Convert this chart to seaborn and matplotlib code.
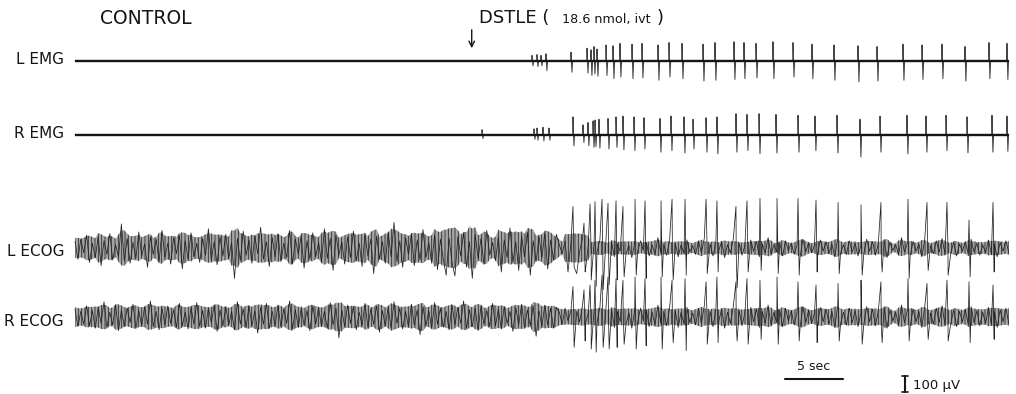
import numpy as np
import pandas as pd
import matplotlib
matplotlib.use("Agg")
import matplotlib.pyplot as plt
import seaborn as sns

sns.set_theme(style="white")
plt.rcParams['font.family'] = ['Liberation Sans', 'DejaVu Sans']
plt.rcParams['hatch.linewidth'] = 0.6

# ---------------- data (time in s, amplitude in microvolts) ----------------
CHANNELS = ["L EMG", "R EMG", "L ECOG", "R ECOG"]
DRUG_TIME = 34.2          # s, DSTLE injection
TRACE_END = 80.5          # s
ECOG_DT = 0.25            # s between background samples

# EMG spikes after drug
L_EMG_T = [39.40, 39.83, 40.17, 40.60, 42.76, 44.14, 44.48, 44.74, 45.00, 45.78,
           46.38, 46.98, 48.02, 48.88, 50.26, 51.21, 52.33, 54.14, 55.17, 56.81,
           57.67, 58.71, 60.17, 61.90, 63.53, 65.43, 67.50, 69.14, 71.38, 73.02,
           74.74, 76.72, 78.79, 80.34]
L_EMG_UP = [35, 40, 35, 45, 55, 80, 70, 90, 75, 100,
            95, 110, 105, 110, 100, 115, 110, 105, 115, 120,
            115, 110, 120, 115, 105, 100, 95, 90, 105, 100,
            105, 90, 115, 110]
L_EMG_DN = [-30, -35, -30, -60, -70, -75, -90, -80, -95, -90,
            -110, -100, -110, -105, -120, -100, -110, -125, -120, -115,
            -110, -105, -110, -100, -110, -120, -130, -125, -120, -115,
            -110, -125, -110, -115]

R_EMG_T = [35.09, 39.57, 39.83, 40.34, 40.86, 42.93, 43.79, 44.22, 44.66, 44.83,
           45.17, 45.95, 46.64, 47.24, 48.19, 49.05, 50.43, 51.38, 52.50, 53.28,
           54.40, 55.34, 56.98, 57.93, 58.97, 60.43, 62.33, 63.79, 65.69, 67.67,
           69.40, 71.72, 73.36, 75.09, 76.90, 79.05, 80.34]
R_EMG_UP = [30, 35, 40, 45, 40, 110, 60, 75, 85, 90,
            95, 100, 110, 115, 110, 105, 100, 115, 110, 95,
            105, 110, 130, 125, 130, 125, 120, 115, 120, 95,
            115, 120, 115, 120, 110, 120, 115]
R_EMG_DN = [-25, -30, -35, -40, -35, -70, -50, -70, -80, -75,
            -85, -90, -80, -95, -100, -90, -110, -100, -115, -90,
            -110, -120, -110, -100, -120, -115, -110, -100, -115, -140,
            -110, -120, -110, -100, -115, -110, -105]

# ECOG paroxysmal spikes after drug
ECOG_T = [42.93, 43.88, 44.40, 44.83, 45.43, 45.95, 46.64, 47.24, 48.28, 49.14,
          50.52, 51.47, 52.59, 54.40, 55.34, 56.98, 57.93, 59.05, 60.52, 62.33,
          63.88, 65.78, 67.76, 69.48, 71.81, 73.45, 75.17, 77.07, 79.14]
L_ECOG_UP = [260, 155, 275, 290, 305, 280, 295, 260, 305, 295,
             295, 305, 305, 305, 295, 260, 295, 310, 310, 310,
             300, 285, 270, 285, 305, 285, 285, 175, 285]
L_ECOG_DN = [-120, -150, -200, -240, -260, -230, -200, -180, -170, -190,
             -180, -200, -170, -160, -150, -250, -150, -140, -160, -170,
             -150, -160, -170, -150, -190, -140, -170, -180, -150]
R_ECOG_UP = [190, 170, 200, 230, 260, 250, 240, 230, 250, 240,
             250, 230, 240, 220, 250, 220, 240, 230, 250, 220,
             200, 210, 230, 220, 240, 210, 230, 220, 200]
R_ECOG_DN = [-190, -150, -200, -220, -190, -200, -190, -170, -200, -180,
             -200, -160, -210, -170, -160, -150, -170, -140, -170, -150,
             -160, -150, -170, -160, -150, -140, -150, -160, -140]

# ECOG background activity (one value every ECOG_DT seconds)
L_ECOG_BG = [
    40, -70, 55, -30, 80, -90, 30, -60, 70, -110, 45, -40, 90, -75, 20, -55, 150, -80, 60, -95,
    35, -65, 100, -50, 25, -120, 70, -40, 55, -85, 110, -60, 30, -100, 65, -35, 80, -130, 45, -70,
    95, -55, 30, -90, 60, -45, 120, -75, 40, -105, 70, -50, 85, -65, 35, -190, 60, -80, 105, -45,
    50, -95, 75, -35, 130, -70, 40, -115, 65, -55, 90, -85, 30, -60, 110, -100, 55, -40, 75, -125,
    45, -70, 95, -55, 35, -90, 120, -65, 60, -140, 80, -45, 40, -100, 70, -60, 105, -80, 30, -115,
    85, -50, 55, -160, 75, -70, 40, -95, 100, -55, 160, -85, 45, -120, 65, -40, 90, -110, 50, -75,
    115, -60, 35, -95, 80, -135, 55, -70, -170, 60, -90, -175, 70, -50, 95, -120, 40, -190, 85, -65,
    60, -100, 110, -45, 35, -80, 70, -150, 50, -60, 125, -90, 40, -140, 75, -55, 100, -170, 45, -85,
    70, -60, 95, -130, 50, -75, 85,
    20, -35, 45, -150, 30, -50, -160, -20, 60, -140, 15, -45, 35, -25, 50, -40, 20, -30, 40, -55,
    25, -20, 55, -35, 15, -60, 30, -25, 45, -15, 35, -50, 20, -40, 65, -30, 25, -45, 40, -20,
    30, -55, 20, -35, 50, -25, 15, -40, 45, -30, 60, -20, 25, -50, 35, -15, 40, -60, 20, -30,
    55, -25, 30, -45, 15, -35, 50, -20, 40, -55, 25, -30, 65, -40, 20, -25, 35, -50, 45, -15,
    30, -40, 20, -60, 55, -25, 35, -30, 15, -45, 50, -20, 40, -35, 25, -55, 60, -30, 20, -40,
    45, -25, 30, -50, 15, -35, 55, -20, 40, -45, 25, -30, 50, -60, 35, -15, 20, -40, 65, -25,
    30, -45, 40, -20, 25, -55, 50, -30, 15, -35, 45, -25, 60, -40, 20, -30, 35, -50, 25, -20,
    40, -35, 55, -25, 30, -45, 20, -30, 50, -40, 25, -55, 35, -20, 45, -30,
]
R_ECOG_BG = [
    50, -60, 35, -45, 70, -55, 40, -70, 60, -40, 95, -65, 30, -50, 75, -85, 45, -60, 55, -35,
    80, -70, 40, -55, 65, -45, 100, -60, 35, -80, 55, -50, 70, -40, 45, -65, 85, -55, 30, -75,
    60, -45, 90, -60, 40, -70, 55, -35, 75, -90, 45, -55, 65, -50, 35, -80, 95, -45, 50, -65,
    70, -55, 40, -100, 60, -45, 85, -70, 35, -55, 75, -60, 50, -40, 100, -75, 45, -65, 55, -50,
    40, -85, 70, -45, 60, -60, 35, -70, 90, -50, 55, -130, 45, -60, 75, -40, 65, -80, 30, -55,
    85, -65, 50, -45, 70, -95, 40, -55, 60, -70, 95, -40, 55, -75, 35, -60, 80, -50, 45, -110,
    65, -55, 40, -70, 90, -45, 55, -65, 35, -80, 75, -50, 60, -40, 100, -70, 45, -60, 55, -85,
    70, -45, 40, -60, 85, -55, 50, -75, 65, -40, 35, -90, 60, -50, 80, -65, 45, -55, 70, -120,
    40, -60, 75, -50, 55, -70, 60,
    30, -45, 55, -25, 40, -60, 35, -30, 70, -40, 25, -55, 45, -35, 60, -50, 30, -40, 50, -65,
    35, -30, 65, -45, 25, -70, 40, -35, 55, -25, 45, -60, 30, -50, 75, -40, 35, -55, 50, -30,
    40, -65, 30, -45, 60, -35, 25, -50, 55, -40, 70, -30, 35, -60, 45, -25, 50, -70, 30, -40,
    65, -35, 40, -55, 25, -45, 60, -30, 50, -65, 35, -40, 75, -50, 30, -35, 45, -60, 55, -25,
    40, -50, 30, -70, 65, -35, 45, -40, 25, -55, 60, -30, 50, -45, 35, -65, 70, -40, 30, -50,
    55, -35, 40, -60, 25, -45, 65, -30, 50, -55, 35, -40, 60, -70, 45, -25, 30, -50, 75, -35,
    40, -55, 50, -30, 35, -65, 60, -40, 25, -45, 55, -35, 70, -50, 30, -40, 45, -60, 35, -30,
    50, -45, 65, -35, 40, -55, 30, -40, 60, -50, 35, -65, 45, -30, 55, -40,
]

# ---------------- layout (axis units: s horizontally, uV vertically) ----------------
PX_PER_S = 11.6
UV_PER_PX = 6.25
X0_PX = 75
W_PX, H_PX = 1016, 394


def tx(px):
    return (px - X0_PX) / PX_PER_S


def ty(py):
    return (H_PX - py) * UV_PER_PX


OFFSET = {"L EMG": ty(61), "R EMG": ty(134.5), "L ECOG": ty(248), "R ECOG": ty(317)}
LABEL_Y = {"L EMG": ty(59), "R EMG": ty(134), "L ECOG": ty(251), "R ECOG": ty(321)}


def emg_series(times, ups, dns):
    ts, vs = [0.0], [0.0]
    for t, u, d in zip(times, ups, dns):
        ts += [t - 0.02, t, t + 0.08, t + 0.14]
        vs += [0.0, u, d, 0.0]
    ts.append(TRACE_END)
    vs.append(0.0)
    return np.array(ts), np.array(vs)


def ecog_series(bg, times, ups, dns):
    tb = ECOG_DT * np.arange(len(bg))
    ts = list(tb)
    vs = list(bg)
    for t, u, d in zip(times, ups, dns):
        ts += [t, t + 0.1]
        vs += [u, d]
    ts = np.array(ts)
    vs = np.array(vs, dtype=float)
    order = np.argsort(ts, kind="stable")
    return ts[order], vs[order]


series = {
    "L EMG": emg_series(L_EMG_T, L_EMG_UP, L_EMG_DN),
    "R EMG": emg_series(R_EMG_T, R_EMG_UP, R_EMG_DN),
    "L ECOG": ecog_series(L_ECOG_BG, ECOG_T, L_ECOG_UP, L_ECOG_DN),
    "R ECOG": ecog_series(R_ECOG_BG, ECOG_T, R_ECOG_UP, R_ECOG_DN),
}
backgrounds = {"L ECOG": L_ECOG_BG, "R ECOG": R_ECOG_BG}

fig = plt.figure(figsize=(W_PX / 100, H_PX / 100), dpi=100)
ax = fig.add_axes([0, 0, 1, 1])
ax.set_xlim(tx(0), tx(W_PX))
ax.set_ylim(0, ty(0))
ax.axis("off")

ink = "#151515"
lab_font = ['DejaVu Sans']
for ch in CHANNELS:
    t, v = series[ch]
    if ch in backgrounds:
        bg = np.asarray(backgrounds[ch], dtype=float)
        tb = ECOG_DT * np.arange(len(bg))
        env = pd.Series(np.abs(bg)).rolling(3, center=True, min_periods=1).mean().to_numpy() * 1.15
        ax.fill_between(tb, OFFSET[ch] - env, OFFSET[ch] + env, facecolor="#a8a8a8",
                        edgecolor="#2e2e2e", hatch="|||||", lw=0, zorder=1)
        sns.lineplot(x=t, y=v + OFFSET[ch], ax=ax, estimator=None, sort=False,
                     color="#222222", lw=0.55, zorder=2)
    else:
        sns.lineplot(x=t, y=v + OFFSET[ch], ax=ax, estimator=None, sort=False,
                     color="#444444", lw=0.75, zorder=2)
        ax.plot([0, TRACE_END], [OFFSET[ch], OFFSET[ch]], color=ink, lw=1.7,
                solid_capstyle="butt", zorder=3)
    ax.text(tx(64), LABEL_Y[ch], ch, ha="right", va="center", fontsize=11,
            color=ink, family=lab_font)

head_font = ['DejaVu Sans']
ax.text(tx(100), ty(18), "CONTROL", ha="left", va="center", fontsize=13.5,
        color=ink, family=head_font)
ax.text(tx(479), ty(18), "DSTLE (", ha="left", va="center", fontsize=13,
        color=ink, family=head_font)
ax.text(tx(562), ty(19), "18.6 nmol, ivt", ha="left", va="center",
        fontsize=9.2, color=ink, family=head_font)
ax.text(tx(657), ty(18), ")", ha="left", va="center", fontsize=13,
        color=ink, family=head_font)
ax.annotate("", xy=(DRUG_TIME, ty(51)), xytext=(DRUG_TIME, ty(27)),
            arrowprops=dict(arrowstyle="->", lw=1.0, color=ink,
                            mutation_scale=10))

# scale bars: 5 s and 100 uV
ax.plot([tx(785), tx(785) + 5], [ty(379), ty(379)], color=ink, lw=1.5)
ax.text(tx(785) + 2.5, ty(367), "5 sec", ha="center", va="center",
        fontsize=9, color=ink, family=head_font)
bx = tx(905)
ax.plot([bx, bx], [ty(392), ty(392) + 100], color=ink, lw=1.5)
for yy in (ty(392), ty(392) + 100):
    ax.plot([bx - 0.28, bx + 0.28], [yy, yy], color=ink, lw=1.2)
ax.text(tx(913), ty(385), "100 \u00b5V", ha="left", va="center",
        fontsize=9.5, color=ink, family=head_font)

fig.savefig("out.png", dpi=100, facecolor="white")
